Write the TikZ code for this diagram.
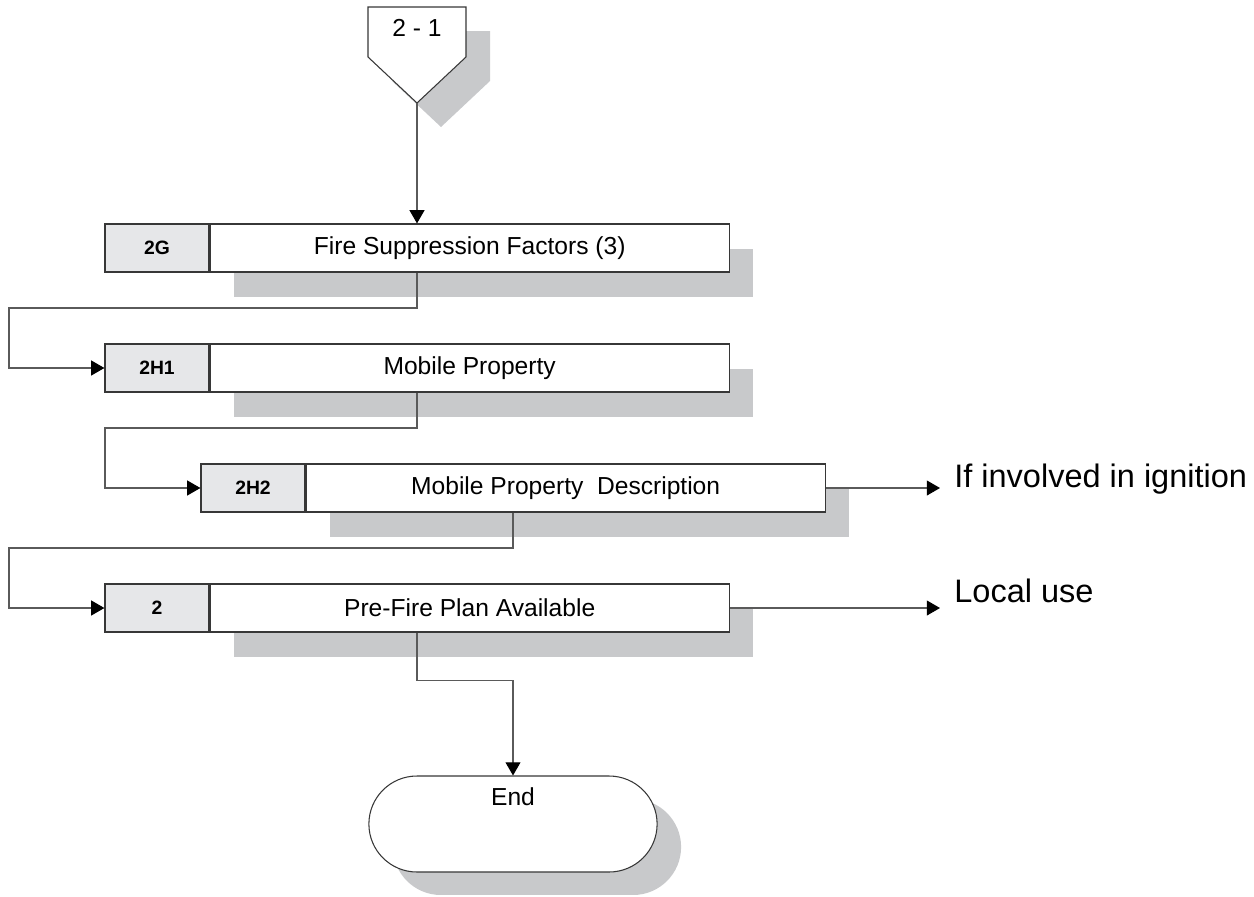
\documentclass[tikz,border=0pt]{standalone}
\usepackage{fontspec}
\setmainfont{Liberation Sans}
\usetikzlibrary{arrows.meta,shapes.misc,shadows,calc}
\definecolor{shadowgray}{RGB}{200,201,203}
\definecolor{codegray}{RGB}{230,231,233}
\definecolor{linegray}{RGB}{55,55,55}
\definecolor{wiregray}{RGB}{90,90,90}
\begin{document}
\begin{tikzpicture}[x=0.02cm,y=-0.02cm]
\tikzstyle{code} = [draw=linegray,fill=codegray,line width=0.7pt,minimum width=2.08cm,minimum height=0.96cm,inner sep=0pt,font=\fontsize{11}{13}\selectfont\bfseries]
\tikzstyle{title} = [draw=linegray,fill=white,line width=0.7pt,minimum width=10.38cm,minimum height=0.96cm,inner sep=0pt,anchor=west,font=\fontsize{14}{16}\selectfont,drop shadow={shadow xshift=0.48cm,shadow yshift=-0.5cm,fill=shadowgray,opacity=1}]
\tikzstyle{arr} = [draw=wiregray,line width=0.6pt,-{Triangle[length=7.5pt,width=8.5pt,color=black]}]
\tikzstyle{side} = [anchor=west,inner sep=0pt,font=\fontsize{18.5}{22}\selectfont]
\useasboundingbox (0,0) rectangle (1254,896);
% off-page connector
\fill[shadowgray] (392,31) -- (490,31) -- (490,81) -- (441,127) -- (392,81) -- cycle;
\draw[linegray,fill=white,line width=0.6pt] (368,7) -- (466,7) -- (466,57) -- (417,103) -- (368,57) -- cycle;
\node[font=\fontsize{14}{16}\selectfont] (page) at (417,28) {2 - 1};
\coordinate (tip) at (417,103);
% boxes
\node[code] (fsfcode) at (157,248) {2G};
\node[title] (fsf) at (fsfcode.east) {Fire Suppression Factors (3)};
\node[code] (mp1code) at (157,368) {2H1};
\node[title] (mp1) at (mp1code.east) {Mobile Property};
\node[code] (mp2code) at (253,488) {2H2};
\node[title] (mp2) at (mp2code.east) {Mobile Property\ \ Description};
\node[code] (pfpcode) at (157,608) {2};
\node[title] (pfp) at (pfpcode.east) {Pre-Fire Plan Available};
% end
\node[draw=linegray,fill=white,line width=0.6pt,rounded rectangle,minimum width=6.0cm,minimum height=1.92cm,drop shadow={shadow xshift=0.48cm,shadow yshift=-0.46cm,fill=shadowgray,opacity=1}] (endn) at (513,824) {};
\node[font=\fontsize{14}{16}\selectfont] (endtext) at ($(endn.center)+(0,-27)$) {End};
% side notes
\node[side] (ign) at (954,479) {If involved in ignition};
\node[side] (loc) at (954,591) {Local use};
\coordinate (ignarr) at (940,488);
\coordinate (locarr) at (940,608);
% connectors
\coordinate (bendA) at (9,308);
\coordinate (bendB) at (105,428);
\coordinate (bendC) at (9,548);
\draw[arr] (tip) -- (tip |- fsf.north);
\draw[arr] (fsf.south -| tip) |- (bendA) |- (mp1code.west);
\draw[arr] (mp1.south -| tip) |- (bendB) |- (mp2code.west);
\draw[arr] (mp2.south -| endn) |- (bendC) |- (pfpcode.west);
\draw[arr] (pfp.south -| tip) -- ++(0,48) -| (endn.north);
\draw[arr] (mp2.east) -- (ignarr);
\draw[arr] (pfp.east) -- (locarr);
\end{tikzpicture}
\end{document}
